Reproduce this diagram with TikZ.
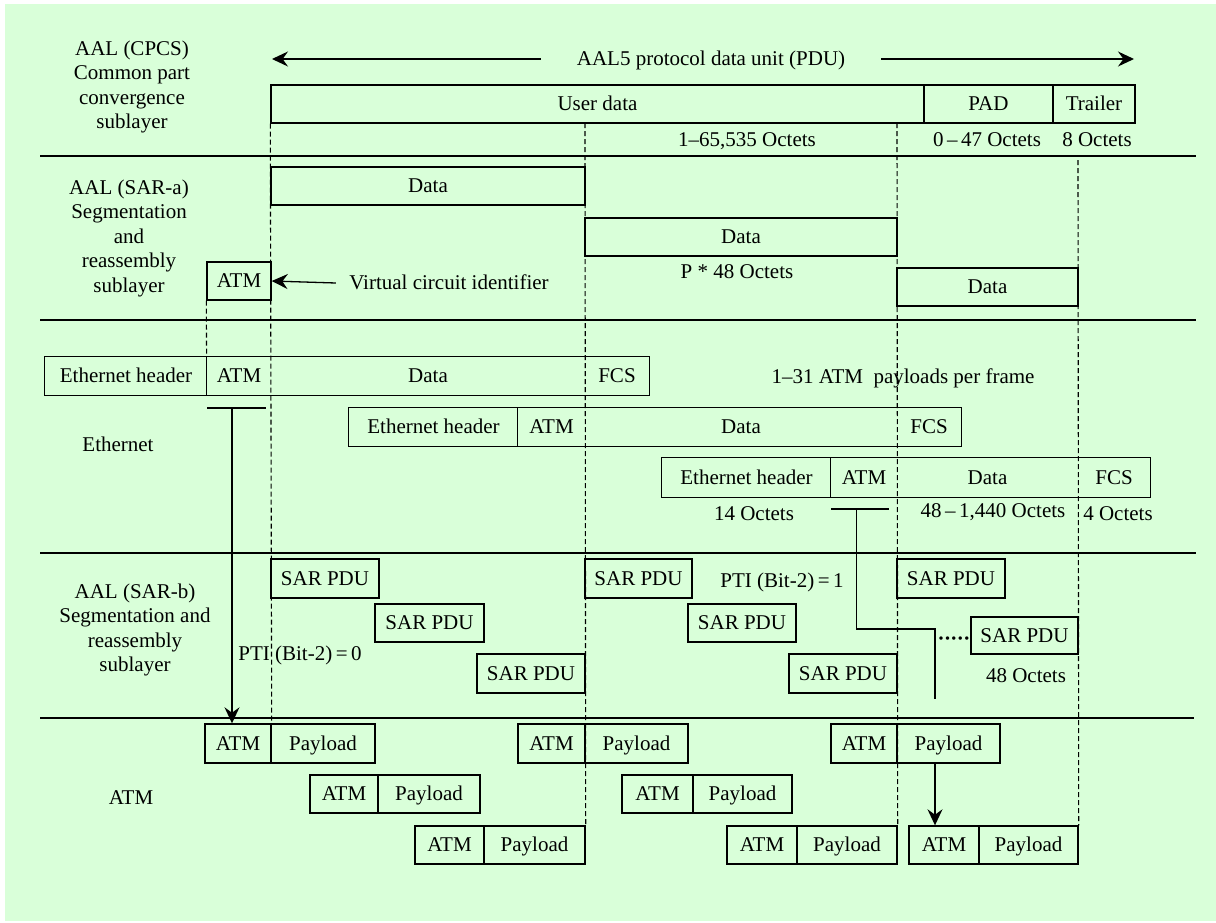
\documentclass[tikz,border=0pt]{standalone}
\usepackage{fontspec}
\setmainfont{Liberation Serif}
\usetikzlibrary{arrows.meta}
\definecolor{bggreen}{RGB}{217,255,217}
\newcommand\mybox[6]{\node[bx, minimum width={(#4-#2)*0.5pt}, minimum height={(#5-#3)*0.5pt}] (#1) at ({(#2+#4)/2},{(#3+#5)/2}) {#6};}
\newcommand\myseg[6]{\node[seg, minimum width={(#4-#2)*0.5pt}, minimum height={(#5-#3)*0.5pt}] (#1) at ({(#2+#4)/2},{(#3+#5)/2}) {#6};}
\begin{document}
\begin{tikzpicture}[x=0.5pt,y=-0.5pt,
  font=\fontsize{10.5}{12.25}\selectfont,
  bx/.style={draw, line width=0.7pt, inner sep=0pt, text height=0.78em, text depth=0.12em},
  seg/.style={inner sep=0pt, text height=0.78em, text depth=0.12em},
  txt/.style={inner sep=0pt, text height=0.78em, text depth=0.12em},
  lbl/.style={align=center, inner sep=0pt},
  bxline/.style={line width=0.7pt},
  sepline/.style={line width=1pt},
  dcol/.style={dash pattern=on 2.5pt off 1.5pt, line width=0.55pt},
  arr/.style={-{Stealth[length=8pt,width=7.5pt,inset=2.7pt]}, line width=0.65pt},
  conn/.style={line width=0.65pt}]
\useasboundingbox (0,0) rectangle (1216,922);
\fill[white] (0,0) rectangle (1216,922);
\fill[bggreen] (5,4) rectangle (1216,921);

% separator lines
\coordinate (s1L) at (40,156);  \coordinate (s1R) at (1196,156);
\coordinate (s2L) at (40,320);  \coordinate (s2R) at (1196,320);
\coordinate (s3L) at (40,553);  \coordinate (s3R) at (1196,553);
\coordinate (s4L) at (40,718);  \coordinate (s4R) at (1194,718);
\draw[sepline] (s1L) -- (s1R);
\draw[sepline] (s2L) -- (s2R);
\draw[sepline] (s3L) -- (s3R);
\draw[sepline] (s4L) -- (s4R);

% left labels
\node[lbl] (lcpcs) at (132,87) {AAL (CPCS)\\Common part\\convergence\\sublayer};
\node[lbl] (lsara) at (129,238) {AAL (SAR-a)\\Segmentation\\and\\reassembly\\sublayer};
\node[txt] (leth) at (118,445) {Ethernet};
\node[lbl] (lsarb) at (135,630) {AAL (SAR-b)\\Segmentation and\\reassembly\\sublayer};
\node[txt] (latm) at (131,798) {ATM};

% CPCS row
\node[txt, minimum width=170pt] (pdu) at (711,59) {AAL5 protocol data unit (PDU)};
\coordinate (pduL) at (272,59);
\coordinate (pduR) at (1134,59);
\draw[arr] (pdu.west) -- (pduL);
\draw[arr] (pdu.east) -- (pduR);
\mybox{user}{271}{85}{924}{123}{User data}
\mybox{pad}{924}{85}{1053}{123}{PAD}
\mybox{trailer}{1053}{85}{1135}{123}{Trailer}
\node[txt] (oct1) at (747,140) {1–65,535 Octets};
\node[txt] (oct2) at (987,140) {0\,–\,47 Octets};
\node[txt] (oct3) at (1097,140) {8 Octets};

% SAR-a row
\mybox{da1}{271}{167}{585}{205}{Data}
\mybox{da2}{585}{218}{897}{256}{Data}
\mybox{da3}{897}{268}{1078}{306}{Data}
\mybox{atma}{207}{262}{271}{300}{ATM}
\node[txt] (p48) at (737,272) {P * 48 Octets};
\node[txt, inner xsep=6.5pt] (vci) at (449,283) {Virtual circuit identifier};
\draw[arr] (vci.west) -- (atma.east);

% Ethernet row
\myseg{f1eh}{45}{357}{207}{395}{Ethernet header}
\myseg{f1atm}{207}{357}{271}{395}{ATM}
\myseg{f1data}{271}{357}{585}{395}{Data}
\myseg{f1fcs}{585}{357}{649}{395}{FCS}
\draw[bxline] (f1eh.north west) rectangle (f1fcs.south east);
\draw[bxline] (f1atm.north west) -- (f1atm.south west);

\myseg{f2eh}{349}{408}{518}{446}{Ethernet header}
\myseg{f2atm}{518}{408}{585}{446}{ATM}
\myseg{f2data}{585}{408}{897}{446}{Data}
\myseg{f2fcs}{897}{408}{961}{446}{FCS}
\draw[bxline] (f2eh.north west) rectangle (f2fcs.south east);
\draw[bxline] (f2atm.north west) -- (f2atm.south west);

\myseg{f3eh}{662}{458}{831}{497}{Ethernet header}
\myseg{f3atm}{831}{458}{897}{497}{ATM}
\myseg{f3data}{897}{458}{1078}{497}{Data}
\myseg{f3fcs}{1078}{458}{1150}{497}{FCS}
\draw[bxline] (f3eh.north west) rectangle (f3fcs.south east);
\draw[bxline] (f3atm.north west) -- (f3atm.south west);

\node[txt] (perframe) at (903,377) {1–31 ATM\hspace{0.25em} payloads per frame};
\node[txt] (oct14) at (754,514) {14 Octets};
\node[txt] (oct48) at (993,511) {48\,–\,1,440 Octets};
\node[txt] (oct4) at (1118,514) {4 Octets};

% SAR-b row
\mybox{s1}{271}{559}{379}{598}{SAR PDU}
\mybox{s2}{375}{604}{484}{642}{SAR PDU}
\mybox{s3}{477}{654}{585}{693}{SAR PDU}
\mybox{s4}{585}{559}{692}{598}{SAR PDU}
\mybox{s5}{688}{604}{796}{642}{SAR PDU}
\mybox{s6}{789}{654}{897}{693}{SAR PDU}
\mybox{s7}{897}{559}{1005}{598}{SAR PDU}
\mybox{s8}{971}{617}{1078}{654}{SAR PDU}
\node[txt] (pti1) at (782,581) {PTI (Bit-2)\,=\,1};
\node[txt] (pti0) at (300,654) {PTI (Bit-2)\,=\,0};
\node[txt] (oct48b) at (1026,676) {48 Octets};
\node[inner sep=0pt, font=\fontsize{10.5}{12.25}\selectfont\bfseries] (dots) at (954,641) {·\kern-0.3pt·\kern-0.3pt·\kern-0.3pt·\kern-0.3pt·};

% ATM row
\mybox{a1atm}{205}{724}{271}{763}{ATM}
\mybox{a1pay}{271}{724}{375}{763}{Payload}
\mybox{a2atm}{310}{775}{378}{813}{ATM}
\mybox{a2pay}{378}{775}{480}{813}{Payload}
\mybox{a3atm}{415}{826}{484}{864}{ATM}
\mybox{a3pay}{484}{826}{585}{864}{Payload}
\mybox{a4atm}{518}{724}{585}{763}{ATM}
\mybox{a4pay}{585}{724}{688}{763}{Payload}
\mybox{a5atm}{622}{775}{693}{813}{ATM}
\mybox{a5pay}{693}{775}{792}{813}{Payload}
\mybox{a6atm}{727}{826}{797}{864}{ATM}
\mybox{a6pay}{797}{826}{897}{864}{Payload}
\mybox{a7atm}{831}{724}{897}{763}{ATM}
\mybox{a7pay}{897}{724}{1000}{763}{Payload}
\mybox{a8atm}{909}{826}{979}{864}{ATM}
\mybox{a8pay}{979}{826}{1078}{864}{Payload}

% dashed column lines
\coordinate (c585t) at (585,123);
\coordinate (c897t) at (897,123);
\coordinate (c1078t) at (1078,160);
\draw[dcol] (user.south west) -- (a1atm.north east);
\draw[dcol] (c585t) -- (a3pay.north east);
\draw[dcol] (c897t) -- (a6pay.north east);
\draw[dcol] (c1078t) -- (a8pay.north east);
\draw[dcol] (atma.south west) -- (f1atm.north west);

% connector 1 (frame 1 ATM -> first ATM cell)
\coordinate (c1a) at (207,408);
\coordinate (c1b) at (266,408);
\coordinate (c1m) at (232,408);
\draw[conn] (c1a) -- (c1b);
\draw[arr] (c1m) -- (c1m |- a1atm.north);

% connector 2 (frame 3 ATM -> last SAR PDU)
\coordinate (c2a) at (831,509);
\coordinate (c2b) at (889,509);
\coordinate (c2m) at (856.5,509);
\coordinate (c2k) at (856.5,629);
\coordinate (c2j) at (935,629);
\coordinate (c2e) at (935,699);
\draw[conn] (c2a) -- (c2b);
\draw[conn] (c2m) -- (c2k) -- (c2j) -- (c2e);

% connector 3
\draw[arr] (a7pay.south -| c2e) -- (a8atm.north -| c2e);
\end{tikzpicture}
\end{document}
